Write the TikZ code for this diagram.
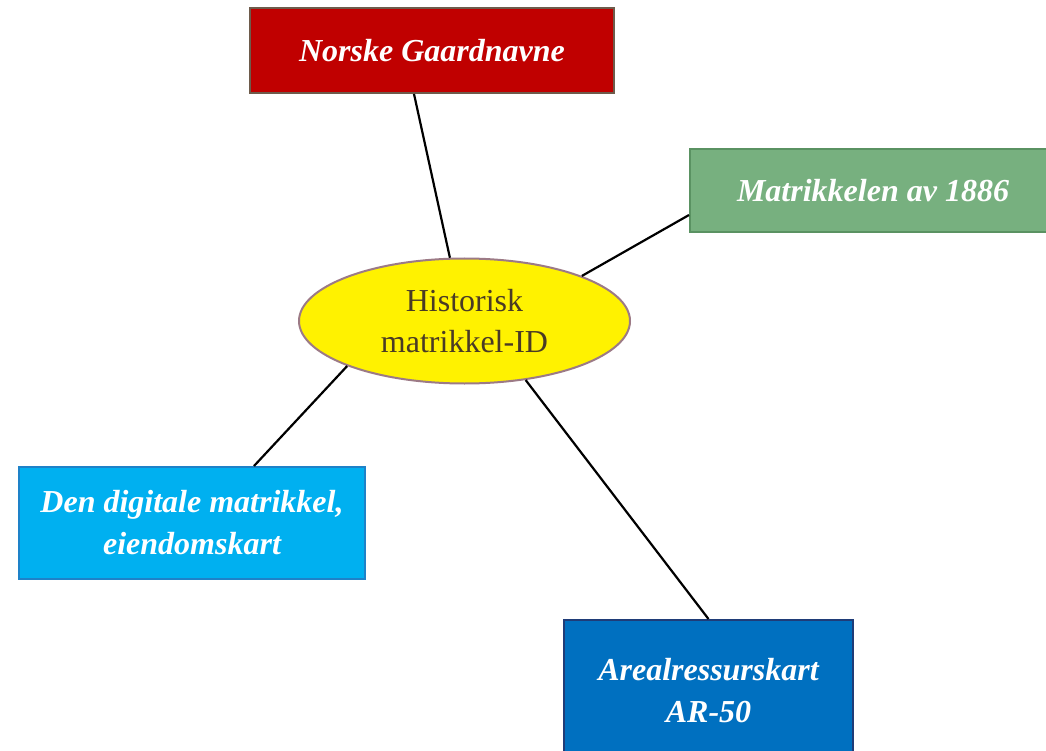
\documentclass[tikz,border=0pt]{standalone}
\usepackage{fontspec}
\setmainfont{Liberation Serif}
\usetikzlibrary{shapes.geometric}
\definecolor{gaardred}{HTML}{C00000}
\definecolor{gaardedge}{HTML}{6E5B4B}
\definecolor{matrgreen}{HTML}{77B07F}
\definecolor{matredge}{HTML}{5A9262}
\definecolor{digiblue}{HTML}{00B0F0}
\definecolor{digiedge}{HTML}{1E82C8}
\definecolor{arealblue}{HTML}{0070C0}
\definecolor{arealedge}{HTML}{1F3C78}
\definecolor{idedge}{HTML}{9C7A86}
\definecolor{idtext}{HTML}{4A3B25}
\tikzset{
  sourcebox/.style={draw, line width=2pt, text=white, align=center,
    font=\fontsize{32}{42}\selectfont\bfseries\itshape},
  link/.style={draw, line width=2.2pt, black}
}
\begin{document}
\begin{tikzpicture}[x=1pt, y=-1pt]
  \useasboundingbox (0,0) rectangle (1046,751);
  \clip (0,0) rectangle (1046,751);
  % centre
  \node [ellipse, draw=idedge, line width=2pt, fill=yellow, text=idtext,
         minimum width=331pt, minimum height=125pt, inner sep=0pt, align=center,
         font=\fontsize{32}{41}\selectfont] (id) at (464.5,321)
         {Historisk\\matrikkel-ID};
  % sources
  \node [sourcebox, fill=gaardred, draw=gaardedge,
         minimum width=364pt, minimum height=85pt] (gaard) at (432,50.5)
         {Norske Gaardnavne};
  \node [sourcebox, fill=matrgreen, draw=matredge,
         minimum width=366pt, minimum height=83pt] (matr) at (873,190.5)
         {Matrikkelen av 1886};
  \node [sourcebox, fill=digiblue, draw=digiedge,
         minimum width=346pt, minimum height=112pt] (digi) at (192,523)
         {Den digitale matrikkel,\\eiendomskart};
  \node [sourcebox, fill=arealblue, draw=arealedge,
         minimum width=289pt, minimum height=142pt] (areal) at (708.5,691)
         {Arealressurskart\\AR-50};
  % links
  \draw [link] ([xshift=-18pt]gaard.south) -- (id.103);
  \draw [link] ([yshift=-24.5pt]matr.west) -- (id.21);
  \draw [link] (id.201) -- ([xshift=62pt]digi.north);
  \draw [link] (id.316) -- (areal.north);
\end{tikzpicture}
\end{document}
